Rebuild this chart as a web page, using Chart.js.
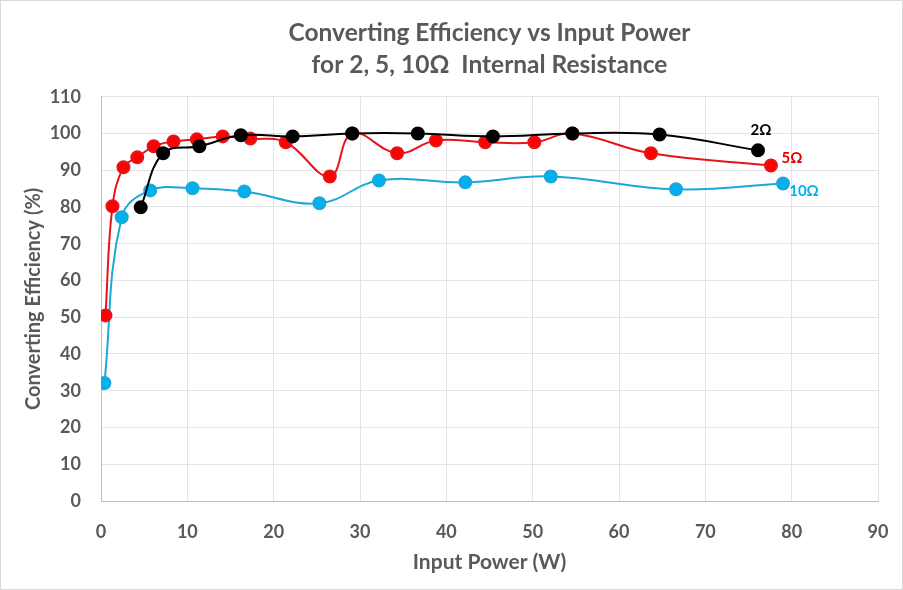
<!DOCTYPE html>
<html><head><meta charset="utf-8">
<script src="https://cdn.jsdelivr.net/npm/chart.js@4/dist/chart.umd.min.js"></script>
<style>html,body{margin:0;padding:0;background:#fff;}#wrap{width:903px;height:590px;position:relative;}</style>
</head><body><div id="wrap"><canvas id="c" width="903" height="590"></canvas></div>
<script>
const xTicks = [0,10,20,30,40,50,60,70,80,90];
const yTicks = [0,10,20,30,40,50,60,70,80,90,100,110];

const power2 = [4.6,7.2,11.4,16.2,22.2,29.1,36.7,45.4,54.6,64.7,76.1];
const eff2   = [79.9,94.6,96.5,99.5,99.2,100,100,99.2,100,99.7,95.4];

const power5 = [0.52,1.33,2.6,4.2,6.1,8.4,11.1,14.1,17.3,21.4,26.5,29.1,34.3,38.8,44.5,50.2,54.6,63.7,77.6];
const eff5   = [50.5,80.2,90.8,93.5,96.5,97.8,98.4,99.2,98.6,97.6,88.3,100,94.6,98.1,97.6,97.6,100,94.6,91.3];

const power10 = [0.4,2.4,5.7,10.6,16.6,25.3,32.2,42.2,52.1,66.6,79.0];
const eff10   = [32.1,77.2,84.5,85.1,84.2,81.0,87.2,86.7,88.3,84.8,86.4];

const seriesNames = ["2Ω","5Ω","10Ω"];

function pts(xs, ys){ return xs.map((x,i)=>({x:x,y:ys[i]})); }

const FONT = "Lato, 'Open Sans', sans-serif";
const GRAY = "#595959";

const labelPlugin = {
  id:'endLabels',
  afterDatasetsDraw(chart){
    const ctx = chart.ctx;
    const offs = [[3,-20],[21,-7],[21,8]];
    ctx.save();
    ctx.font = "bold 15px " + FONT;
    ctx.textAlign = 'center';
    ctx.textBaseline = 'middle';
    chart.data.datasets.forEach((ds,i)=>{
      const meta = chart.getDatasetMeta(i);
      const last = meta.data[meta.data.length-1];
      ctx.fillStyle = ds.labelColor;
      ctx.fillText(seriesNames[i], last.x + offs[i][0], last.y + offs[i][1]);
    });
    ctx.restore();
  }
};
const borderPlugin = {
  id:'outerBorder',
  afterDraw(chart){
    const ctx = chart.ctx;
    ctx.save();
    ctx.strokeStyle = '#D9D9D9';
    ctx.lineWidth = 1;
    ctx.strokeRect(0.5,0.5,chart.width-1,chart.height-1);
    ctx.restore();
  }
};

new Chart(document.getElementById('c'), {
  type:'scatter',
  data:{
    datasets:[
      {label:seriesNames[0], data:pts(power2,eff2), showLine:true, borderColor:'#000000', backgroundColor:'#000000', labelColor:'#000000', borderWidth:2, pointRadius:6, pointHoverRadius:6, tension:0.4},
      {label:seriesNames[1], data:pts(power5,eff5), showLine:true, borderColor:'#E8141A', backgroundColor:'#FF0000', labelColor:'#E00000', borderWidth:2, pointRadius:6, pointHoverRadius:6, tension:0.4},
      {label:seriesNames[2], data:pts(power10,eff10), showLine:true, borderColor:'#1AA8D8', backgroundColor:'#00B0F0', labelColor:'#00B0F0', borderWidth:2, pointRadius:6, pointHoverRadius:6, tension:0.4}
    ]
  },
  options:{
    responsive:false, animation:false,
    layout:{padding:{left:14,right:25,top:17,bottom:10}},
    plugins:{
      legend:{display:false}, tooltip:{enabled:false},
      title:{display:true, fullSize:false, text:["Converting Efficiency vs Input Power","for 2, 5, 10Ω  Internal Resistance"], color:GRAY, font:{family:FONT,size:24.5,weight:'bold',lineHeight:1.3}, padding:{top:0,bottom:16}}
    },
    scales:{
      x:{type:'linear', min:0, max:90,
        afterBuildTicks(s){ s.ticks = xTicks.map(v=>({value:v})); },
        afterFit(s){ s.height = 590-501-10; s.paddingLeft = 0; s.paddingRight = 0; },
        grid:{color:'#E4E4E4', tickLength:0, drawTicks:false},
        border:{color:'#BFBFBF'},
        ticks:{color:GRAY, font:{family:FONT,size:18,weight:'bold'}, padding:20, maxRotation:0},
        title:{display:true, text:'Input Power (W)', color:GRAY, font:{family:FONT,size:21,weight:'bold'}, padding:{top:6,bottom:5}}
      },
      y:{type:'linear', min:0, max:110,
        afterBuildTicks(s){ s.ticks = yTicks.map(v=>({value:v})); },
        afterFit(s){ s.width = 101-14; s.paddingTop = 0; s.paddingBottom = 0; },
        grid:{color:'#E4E4E4', tickLength:0, drawTicks:false},
        border:{color:'#BFBFBF'},
        ticks:{color:GRAY, font:{family:FONT,size:18,weight:'bold'}, padding:20},
        title:{display:true, text:'Converting Efficiency (%)', color:GRAY, font:{family:FONT,size:20,weight:'bold'}, padding:{top:8,bottom:4}}
      }
    }
  },
  plugins:[labelPlugin,borderPlugin]
});
</script></body></html>
